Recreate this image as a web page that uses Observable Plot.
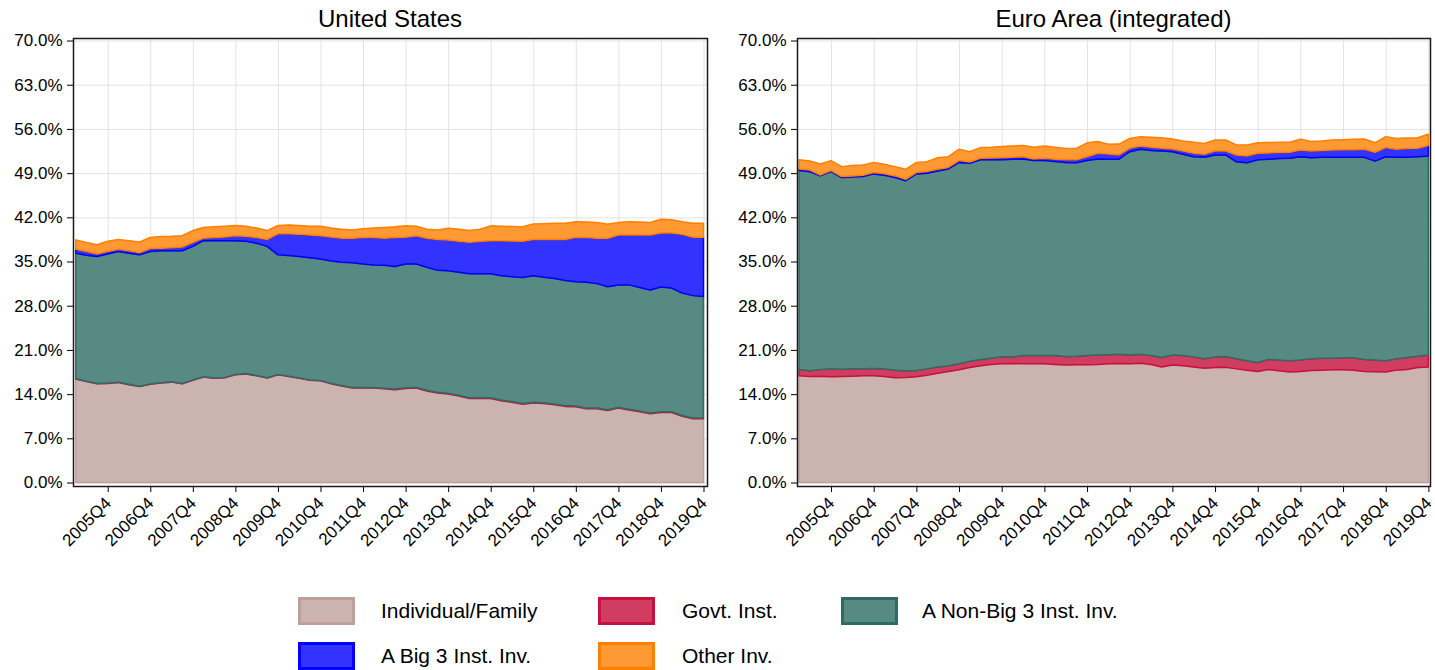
<!DOCTYPE html>
<html>
<head>
<meta charset="utf-8">
<script src="https://cdn.jsdelivr.net/npm/d3@7"></script>
<script src="https://cdn.jsdelivr.net/npm/@observablehq/plot@0.6"></script>
<style>
  html, body { margin: 0; padding: 0; background: #fff; }
  body { font-family: "Liberation Sans", Arial, sans-serif; }
  #wrap { position: relative; width: 1435px; height: 670px; overflow: hidden; background: #fff; }
  .title { position: absolute; top: 4px; height: 30px; line-height: 30px; text-align: center; font-size: 24px; color: #000; white-space: nowrap; }
  .panel { position: absolute; top: 30px; }
  .leg-sw { position: absolute; width: 51px; height: 22px; border-style: solid; border-width: 3px; }
  .leg-tx { position: absolute; font-size: 21px; line-height: 28px; height: 28px; color: #000; white-space: nowrap; }
</style>
</head>
<body>
<div id="wrap">
  <div class="title" style="left:73px;width:634px;">United States</div>
  <div class="title" style="left:797px;width:633px;">Euro Area (integrated)</div>
  <div id="us" class="panel" style="left:0px;"></div>
  <div id="ea" class="panel" style="left:717px;"></div>
  <div id="legend"></div>
</div>
<script>
// ---------- categories / tick labels ----------
const quarters = [
  "2005Q1","2005Q2","2005Q3","2005Q4","2006Q1","2006Q2","2006Q3","2006Q4",
  "2007Q1","2007Q2","2007Q3","2007Q4","2008Q1","2008Q2","2008Q3","2008Q4",
  "2009Q1","2009Q2","2009Q3","2009Q4","2010Q1","2010Q2","2010Q3","2010Q4",
  "2011Q1","2011Q2","2011Q3","2011Q4","2012Q1","2012Q2","2012Q3","2012Q4",
  "2013Q1","2013Q2","2013Q3","2013Q4","2014Q1","2014Q2","2014Q3","2014Q4",
  "2015Q1","2015Q2","2015Q3","2015Q4","2016Q1","2016Q2","2016Q3","2016Q4",
  "2017Q1","2017Q2","2017Q3","2017Q4","2018Q1","2018Q2","2018Q3","2018Q4",
  "2019Q1","2019Q2","2019Q3","2019Q4"
];
const xTickLabels = ["2005Q4","2006Q4","2007Q4","2008Q4","2009Q4","2010Q4","2011Q4",
  "2012Q4","2013Q4","2014Q4","2015Q4","2016Q4","2017Q4","2018Q4","2019Q4"];
const yTicks = [0, 7, 14, 21, 28, 35, 42, 49, 56, 63, 70];
const seriesNames = ["Individual/Family", "Govt. Inst.", "A Non-Big 3 Inst. Inv.", "A Big 3 Inst. Inv.", "Other Inv."];
const seriesFill = ["#cbb4b0", "#d03d60", "#578a83", "#3333ff", "#ff9933"];
const seriesLine = ["#bf9f9a", "#c8103c", "#2f6b64", "#0000ff", "#ff7f00"];
const panelTitles = ["United States", "Euro Area (integrated)"];

// ---------- United States: upper edge of each stacked band (% of market cap) ----------
const usIndividualTop = [16.4, 16.0, 15.65, 15.7, 15.85, 15.5, 15.2, 15.55, 15.75, 15.9,
  15.65, 16.2, 16.7, 16.5, 16.6, 17.05, 17.2, 16.9, 16.55, 17.05,
  16.8, 16.5, 16.2, 16.1, 15.65, 15.3, 14.97, 14.97, 14.97, 14.85,
  14.7, 14.9, 14.97, 14.5, 14.18, 14.0, 13.7, 13.3, 13.3, 13.3,
  12.96, 12.7, 12.4, 12.6, 12.5, 12.3, 12.06, 12.0, 11.7, 11.7,
  11.4, 11.8, 11.5, 11.2, 10.9, 11.1, 11.1, 10.5, 10.1, 10.1];
const usGovtTop = [16.45, 16.05, 15.7, 15.75, 15.9, 15.55, 15.25, 15.6, 15.8, 15.95,
  15.7, 16.25, 16.75, 16.55, 16.65, 17.1, 17.25, 16.95, 16.6, 17.1,
  16.85, 16.55, 16.25, 16.15, 15.7, 15.35, 15.05, 15.05, 15.05, 14.95,
  14.8, 15.0, 15.07, 14.6, 14.3, 14.12, 13.82, 13.42, 13.42, 13.42,
  13.08, 12.82, 12.52, 12.72, 12.62, 12.42, 12.18, 12.12, 11.82, 11.82,
  11.52, 11.92, 11.62, 11.32, 11.02, 11.22, 11.22, 10.62, 10.22, 10.22];
const usNonBig3Top = [36.3, 36.0, 35.8, 36.2, 36.6, 36.3, 36.06, 36.6, 36.7, 36.7,
  36.7, 37.4, 38.3, 38.3, 38.3, 38.3, 38.2, 37.9, 37.4, 36.06,
  35.95, 35.8, 35.6, 35.4, 35.1, 34.9, 34.8, 34.6, 34.45, 34.4,
  34.2, 34.6, 34.6, 34.1, 33.6, 33.55, 33.3, 33.05, 33.05, 33.05,
  32.74, 32.6, 32.47, 32.74, 32.5, 32.3, 32.0, 31.8, 31.7, 31.5,
  31.0, 31.3, 31.3, 30.9, 30.5, 30.95, 30.8, 30.0, 29.6, 29.46];
const usBig3Top = [36.96, 36.6, 36.2, 36.6, 36.96, 36.7, 36.4, 37.06, 37.1, 37.2,
  37.3, 38.0, 38.7, 38.8, 38.9, 39.1, 39.0, 38.8, 38.5, 39.4,
  39.4, 39.3, 39.2, 39.1, 38.9, 38.7, 38.7, 38.8, 38.8, 38.7,
  38.8, 38.86, 39.07, 38.7, 38.5, 38.4, 38.2, 38.07, 38.2, 38.3,
  38.3, 38.25, 38.2, 38.5, 38.5, 38.5, 38.5, 38.86, 38.8, 38.7,
  38.7, 39.2, 39.2, 39.2, 39.2, 39.5, 39.5, 39.3, 38.86, 38.86];
const usOtherTop = [38.43, 38.0, 37.65, 38.2, 38.5, 38.3, 38.1, 38.8, 38.96, 39.0,
  39.1, 39.9, 40.4, 40.5, 40.6, 40.7, 40.6, 40.3, 39.9, 40.7,
  40.8, 40.7, 40.6, 40.6, 40.3, 40.1, 40.0, 40.2, 40.3, 40.4,
  40.5, 40.65, 40.6, 40.1, 40.0, 40.28, 40.1, 39.9, 40.1, 40.65,
  40.6, 40.55, 40.5, 40.96, 41.0, 41.05, 41.07, 41.3, 41.25, 41.2,
  40.9, 41.2, 41.3, 41.25, 41.2, 41.7, 41.6, 41.3, 41.07, 41.07];

// ---------- Euro Area: upper edge of each stacked band (% of market cap) ----------
const eaIndividualTop = [16.9, 16.8, 16.85, 16.75, 16.8, 16.85, 16.9, 16.9, 16.8, 16.6,
  16.65, 16.75, 17.0, 17.3, 17.6, 17.85, 18.2, 18.5, 18.7, 18.8,
  18.85, 18.8, 18.8, 18.8, 18.7, 18.6, 18.65, 18.65, 18.7, 18.8,
  18.85, 18.8, 18.9, 18.7, 18.3, 18.6, 18.5, 18.3, 18.1, 18.2,
  18.25, 18.0, 17.8, 17.6, 17.9, 17.7, 17.5, 17.6, 17.75, 17.8,
  17.85, 17.85, 17.8, 17.6, 17.55, 17.5, 17.8, 17.9, 18.2, 18.3];
const eaGovtTop = [17.9, 17.7, 17.9, 18.0, 17.95, 18.0, 18.0, 18.05, 18.0, 17.8,
  17.7, 17.75, 18.0, 18.3, 18.5, 18.8, 19.2, 19.5, 19.7, 19.9,
  19.9, 20.1, 20.1, 20.1, 20.1, 19.95, 20.0, 20.1, 20.2, 20.25,
  20.3, 20.2, 20.3, 20.1, 19.8, 20.2, 20.1, 19.9, 19.6, 19.9,
  19.95, 19.6, 19.3, 19.0, 19.5, 19.4, 19.3, 19.4, 19.6, 19.7,
  19.7, 19.75, 19.75, 19.5, 19.4, 19.3, 19.6, 19.8, 20.0, 20.2];
const eaNonBig3Top = [49.4, 49.2, 48.56, 49.25, 48.3, 48.4, 48.45, 48.88, 48.66, 48.3,
  47.8, 48.88, 48.99, 49.35, 49.67, 50.7, 50.57, 51.1, 51.1, 51.1,
  51.2, 51.25, 50.98, 50.98, 50.85, 50.7, 50.65, 51.0, 51.25, 51.2,
  51.2, 52.4, 52.78, 52.6, 52.5, 52.4, 52.0, 51.6, 51.5, 51.88,
  51.88, 50.8, 50.65, 51.1, 51.2, 51.3, 51.35, 51.6, 51.45, 51.5,
  51.5, 51.5, 51.5, 51.5, 50.9, 51.6, 51.5, 51.5, 51.6, 51.7];
const eaBig3Top = [49.67, 49.5, 48.7, 49.4, 48.45, 48.55, 48.66, 49.1, 48.9, 48.56,
  48.03, 49.1, 49.25, 49.6, 49.9, 50.98, 50.77, 51.35, 51.4, 51.45,
  51.5, 51.6, 51.25, 51.35, 51.2, 51.1, 51.1, 51.6, 52.15, 52.04,
  51.88, 52.94, 53.3, 53.1, 52.95, 52.83, 52.5, 52.15, 51.99, 52.5,
  52.5, 51.88, 51.7, 52.15, 52.2, 52.25, 52.3, 52.67, 52.5, 52.6,
  52.67, 52.7, 52.7, 52.78, 52.3, 53.04, 52.78, 52.9, 52.94, 53.36];
const eaOtherTop = [51.1, 50.93, 50.46, 50.98, 50.03, 50.2, 50.3, 50.7, 50.4, 50.03,
  49.6, 50.7, 50.8, 51.45, 51.6, 52.8, 52.4, 53.04, 53.1, 53.2,
  53.3, 53.36, 53.1, 53.3, 53.1, 52.9, 52.9, 53.8, 54.0, 53.57,
  53.6, 54.5, 54.78, 54.7, 54.6, 54.4, 54.1, 53.9, 53.7, 54.25,
  54.25, 53.46, 53.46, 53.8, 53.85, 53.9, 53.9, 54.36, 54.0, 54.1,
  54.25, 54.3, 54.35, 54.4, 53.8, 54.78, 54.5, 54.55, 54.6, 55.15];

// ---------- build tables ----------
function bandRows(tops) {
  // tops: upper edges in stacking order; lower edge of band k is upper edge of band k-1 (or 0)
  const rows = [];
  tops.forEach((top, k) => {
    quarters.forEach((q, i) => {
      rows.push({series: seriesNames[k], k, i, lo: k === 0 ? 0 : tops[k - 1][i], hi: top[i]});
    });
  });
  return rows;
}
const usRows = bandRows([usIndividualTop, usGovtTop, usNonBig3Top, usBig3Top, usOtherTop]);
const eaRows = bandRows([eaIndividualTop, eaGovtTop, eaNonBig3Top, eaBig3Top, eaOtherTop]);
const tickIdx = xTickLabels.map(l => quarters.indexOf(l));

function panel(rows, opts) {
  const marks = [
    Plot.gridY(yTicks, {stroke: "#e3e3e3", strokeOpacity: 1, strokeWidth: 1}),
    Plot.gridX(tickIdx, {stroke: "#e3e3e3", strokeOpacity: 1, strokeWidth: 1}),
  ];
  seriesNames.forEach((name, k) => {
    marks.push(Plot.areaY(rows.filter(d => d.k === k), {
      x: "i", y1: "lo", y2: "hi",
      fill: seriesFill[k], fillOpacity: 1,
      stroke: seriesLine[k], strokeWidth: 1.5, strokeLinejoin: "round"
    }));
  });
  marks.push(
    Plot.axisY(yTicks, {label: null, tickSize: 6, tickPadding: 5, tickFormat: d => d.toFixed(1) + "%", fontSize: 17, stroke: "#000", fill: "#000"}),
    Plot.axisX(tickIdx, {label: null, tickSize: 6, tickPadding: 8, tickRotate: -45, tickFormat: i => quarters[i], fontSize: 17, stroke: "#000", fill: "#000"}),
    Plot.frame({stroke: "#1a1a1a", strokeWidth: 1.5})
  );
  return Plot.plot({
    width: opts.width, height: 530,
    marginLeft: opts.ml, marginRight: opts.mr, marginTop: 8, marginBottom: 74,
    style: {fontFamily: "'Liberation Sans', Arial, sans-serif", fontSize: "17px", background: "transparent", color: "#000", overflow: "visible"},
    x: {type: "linear", domain: opts.xdom, axis: null, label: null},
    y: {domain: [-0.55, 70.4], axis: null, label: null},
    marks
  });
}

document.getElementById("us").appendChild(panel(usRows, {width: 717, ml: 73, mr: 10, xdom: [-0.263, 59.33]}));
document.getElementById("ea").appendChild(panel(eaRows, {width: 718, ml: 80, mr: 5, xdom: [-0.19, 59.15]}));

// ---------- legend ----------
const legendPos = [
  {sx: 298, tx: 381, y: 597}, {sx: 598, tx: 682, y: 597}, {sx: 841, tx: 922, y: 597},
  {sx: 298, tx: 381, y: 642}, {sx: 598, tx: 682, y: 642}
];
const legend = document.getElementById("legend");
seriesNames.forEach((name, k) => {
  const p = legendPos[k];
  const sw = document.createElement("div");
  sw.className = "leg-sw";
  sw.style.left = p.sx + "px"; sw.style.top = p.y + "px";
  sw.style.background = seriesFill[k]; sw.style.borderColor = seriesLine[k];
  legend.appendChild(sw);
  const tx = document.createElement("div");
  tx.className = "leg-tx";
  tx.style.left = p.tx + "px"; tx.style.top = (p.y) + "px";
  tx.textContent = name;
  legend.appendChild(tx);
});
</script>
</body>
</html>
